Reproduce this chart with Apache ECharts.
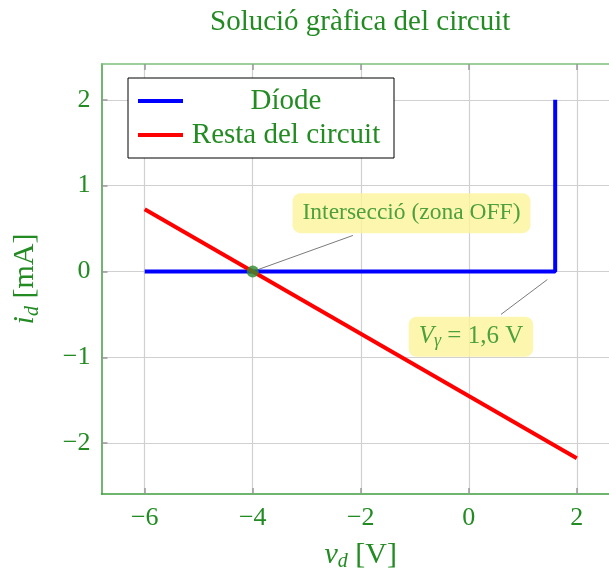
<!DOCTYPE html>
<html>
<head>
<meta charset="utf-8">
<script src="https://cdn.jsdelivr.net/npm/echarts@6/dist/echarts.min.js"></script>
<style>
  html, body { margin: 0; padding: 0; background: #fff; }
  #chart { width: 609px; height: 571px; }
</style>
</head>
<body>
<div id="chart"></div>
<script>
  // dades del gràfic
  var xTicks = [-6, -4, -2, 0, 2];
  var yTicks = [-2, -1, 0, 1, 2];
  var diodeData = [[-6, 0], [1.6, 0], [1.6, 2]];
  var restaData = [[-6, 0.725], [2, -2.175]];
  var interseccio = [[-4, 0]];
  var labelInter = [[-1.06, 0.68]];
  var labelVgamma = [[0.04, -0.76]];
  var lineInter = [[-4, 0], [-2.145, 0.42]];
  var lineVgamma = [[1.455, -0.094], [0.597, -0.5]];

  var green = '#228b22';
  var font = '"Liberation Serif", "DejaVu Serif", serif';

  function minus(v) {
    return String(v).replace('-', '\u2212');
  }

  var myChart = echarts.init(document.getElementById('chart'));
  myChart.setOption({
    animation: false,
    textStyle: { fontFamily: font, color: green },
    title: {
      text: 'Solució gràfica del circuit',
      left: 205,
      top: 3,
      textStyle: { fontFamily: font, fontWeight: 'normal', fontSize: 29, color: green }
    },
    legend: {
      orient: 'vertical',
      left: 128,
      top: 78,
      padding: [8, 10, 8, 10],
      itemGap: 4,
      itemWidth: 45,
      itemHeight: 4,
      icon: 'rect',
      backgroundColor: '#fff',
      borderColor: '#000',
      borderWidth: 1,
      borderRadius: 0,
      data: ['Díode', 'Resta del circuit'],
      formatter: function (name) { return '{c|' + name + '}'; },
      textStyle: {
        rich: {
          c: { width: 196, height: 30, align: 'center', fontSize: 29, lineHeight: 30, fontFamily: font, color: green }
        }
      }
    },
    grid: { left: 101.5, right: -11, top: 64, bottom: 77, outerBoundsMode: 'none' },
    xAxis: [
      {
        type: 'value',
        min: -6.8,
        max: 2.8,
        position: 'bottom',
        name: '{i|v}{s|d}{n| [V]}',
        nameLocation: 'middle',
        nameGap: 44,
        nameTextStyle: {
          rich: {
            i: { fontFamily: font, fontStyle: 'italic', fontSize: 30, color: green },
            s: { fontFamily: font, fontStyle: 'italic', fontSize: 20, color: green, padding: [14, 0, 0, 0] },
            n: { fontFamily: font, fontSize: 30, color: green }
          }
        },
        axisLine: { onZero: false, lineStyle: { color: '#3f9f3f', width: 1.5 } },
        axisTick: { inside: true, length: 6, customValues: xTicks, lineStyle: { color: '#999', width: 1.5 } },
        axisLabel: {
          customValues: xTicks,
          margin: 11,
          fontSize: 26,
          fontFamily: font,
          color: green,
          formatter: minus
        },
        splitLine: { show: true, lineStyle: { color: '#d0d0d0', width: 1.2 } }
      },
      {
        type: 'value',
        min: -6.8,
        max: 2.8,
        position: 'top',
        axisLine: { onZero: false, lineStyle: { color: '#7cc07c', width: 1.5 } },
        axisTick: { inside: true, length: 6, customValues: xTicks, lineStyle: { color: '#999', width: 1.5 } },
        axisLabel: { show: false },
        splitLine: { show: false }
      }
    ],
    yAxis: {
      type: 'value',
      min: -2.5925,
      max: 2.4175,
      name: '{i|i}{s|d}{n| [mA]}',
      nameLocation: 'middle',
      nameGap: 59,
      nameRotate: 90,
      nameTextStyle: {
        rich: {
          i: { fontFamily: font, fontStyle: 'italic', fontSize: 30, color: green },
          s: { fontFamily: font, fontStyle: 'italic', fontSize: 20, color: green, padding: [14, 0, 0, 0] },
          n: { fontFamily: font, fontSize: 30, color: green }
        }
      },
      axisLine: { show: true, onZero: false, lineStyle: { color: '#3f9f3f', width: 1.5 } },
      axisTick: { show: true, inside: true, length: 6, customValues: yTicks, lineStyle: { color: '#999', width: 1.5 } },
      axisLabel: {
        customValues: yTicks,
        margin: 11,
        fontSize: 26,
        fontFamily: font,
        color: green,
        formatter: minus
      },
      splitLine: { show: true, lineStyle: { color: '#d0d0d0', width: 1.2 } }
    },
    series: [
      {
        name: 'Díode',
        type: 'line',
        data: diodeData,
        symbol: 'none',
        color: '#0000ff',
        lineStyle: { width: 4, color: '#0000ff' },
        z: 3
      },
      {
        name: 'Resta del circuit',
        type: 'line',
        data: restaData,
        symbol: 'none',
        color: '#ff0000',
        lineStyle: { width: 4, color: '#ff0000' },
        z: 4
      },
      {
        type: 'line',
        data: lineInter,
        symbol: 'none',
        silent: true,
        lineStyle: { width: 1, color: '#7a7a7a' },
        z: 2
      },
      {
        type: 'line',
        data: lineVgamma,
        symbol: 'none',
        silent: true,
        lineStyle: { width: 1, color: '#7a7a7a' },
        z: 2
      },
      {
        type: 'scatter',
        data: interseccio,
        symbolSize: 12,
        itemStyle: { color: '#2e8b2e' },
        z: 5
      },
      {
        type: 'scatter',
        data: labelInter,
        symbolSize: 0,
        z: 6,
        label: {
          show: true,
          position: 'inside',
          formatter: 'Intersecció (zona OFF)',
          fontFamily: font,
          fontSize: 23.5,
          color: green,
          backgroundColor: '#fdf49b',
          borderRadius: 8,
          padding: [8, 10, 8, 10]
        }
      },
      {
        type: 'scatter',
        data: labelVgamma,
        symbolSize: 0,
        z: 6,
        label: {
          show: true,
          position: 'inside',
          formatter: '{i|V}{s|γ}{n| = 1,6 V}',
          backgroundColor: '#fdf49b',
          borderRadius: 8,
          padding: [6, 10, 6, 10],
          rich: {
            i: { fontFamily: font, fontStyle: 'italic', fontSize: 25, color: green },
            s: { fontFamily: font, fontStyle: 'italic', fontSize: 18, color: green, padding: [10, 0, 0, 0] },
            n: { fontFamily: font, fontSize: 25, color: green }
          }
        }
      }
    ]
  });
</script>
</body>
</html>
